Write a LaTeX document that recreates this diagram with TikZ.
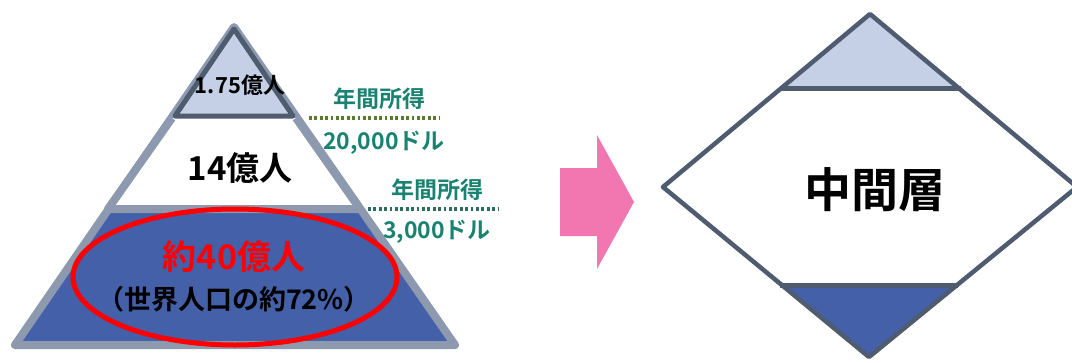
\documentclass[tikz,border=0pt]{standalone}
\usepackage{fontspec}
\setmainfont{Noto Sans CJK JP Bold}
\newfontfamily\jpb{Noto Sans CJK JP Bold}
\definecolor{pgray}{HTML}{8D99AF}
\definecolor{pblue}{HTML}{4360A8}
\definecolor{plight}{HTML}{C5CFE6}
\definecolor{pdark}{HTML}{4F5B6E}
\definecolor{pteal}{HTML}{1A8270}
\definecolor{polive}{HTML}{5A7A2C}
\definecolor{pdteal}{HTML}{2B6E5C}
\definecolor{ppink}{HTML}{F277B0}
\tikzset{
  lbl/.style={inner sep=0pt, font=\jpb},
  income/.style={lbl, text=pteal, font=\jpb\fontsize{23pt}{26pt}\selectfont},
  dotline/.style={line width=3.2pt, dash pattern=on 2.8pt off 2.6pt},
}
\begin{document}
\begin{tikzpicture}[x=1pt,y=-1pt]
\useasboundingbox (0,0) rectangle (1072,362);
\fill[white] (0,0) rectangle (1072,362);
% ---------- pyramid ----------
\coordinate (A) at (234,27);
\coordinate (BL) at (15,345);
\coordinate (BR) at (455,345);
\filldraw[fill=pblue, draw=pgray, line width=8pt, line join=round] (A) -- (BL) -- (BR) -- cycle;
\begin{scope}
  \clip (A) -- (BL) -- (BR) -- cycle;
  \fill[white] (0,118) rectangle (600,209);
\end{scope}
\draw[pgray, line width=8pt, line join=round] (172,118) -- (108,209) -- (360,209) -- (296,118);
\filldraw[fill=plight, draw=pdark, line width=5pt, line join=round] (234,29) -- (175,116) -- (293,116) -- cycle;
\node[lbl, font=\jpb\fontsize{22pt}{24pt}\selectfont] (t1) at (240,85) {1.75億人};
\node[lbl, font=\jpb\fontsize{33pt}{36pt}\selectfont] (t2) at (240,168) {14億人};
\draw[red, line width=5pt] (235,277) ellipse [x radius=162, y radius=68];
\node[lbl, text=red, font=\jpb\fontsize{34pt}{36pt}\selectfont] (t3) at (234,257) {約40億人};
\node[lbl, font=\jpb\fontsize{27pt}{30pt}\selectfont] (t4) at (234,299) {（世界人口の約72\%）};
% ---------- income labels ----------
\node[income] (i1) at (379,99) {年間所得};
\draw[dotline, polive] (309,118) -- (440,118);
\node[income] (i2) at (384,143) {20,000ドル};
\node[income] (i3) at (437,190) {年間所得};
\draw[dotline, pdteal] (368,209) -- (499,209);
\node[income] (i4) at (437,232) {3,000ドル};
% ---------- arrow ----------
\fill[ppink] (560,168) -- (597,168) -- (597,135) -- (634,202) -- (597,269) -- (597,236) -- (560,236) -- cycle;
% ---------- diamond ----------
\fill[plight] (870,14) -- (780,88) -- (961,88) -- cycle;
\fill[pblue] (780,285) -- (958,285) -- (869,357) -- cycle;
\draw[pdark, line width=4.5pt, line join=round] (663,187) -- (870,14) -- (1077,187) -- (869,357) -- cycle;
\draw[pdark, line width=5pt] (780,88) -- (961,88);
\draw[pdark, line width=5pt] (780,285) -- (958,285);
\node[lbl, font=\jpb\fontsize{47pt}{50pt}\selectfont] (mid) at (875,190) {中間層};
\end{tikzpicture}
\end{document}
